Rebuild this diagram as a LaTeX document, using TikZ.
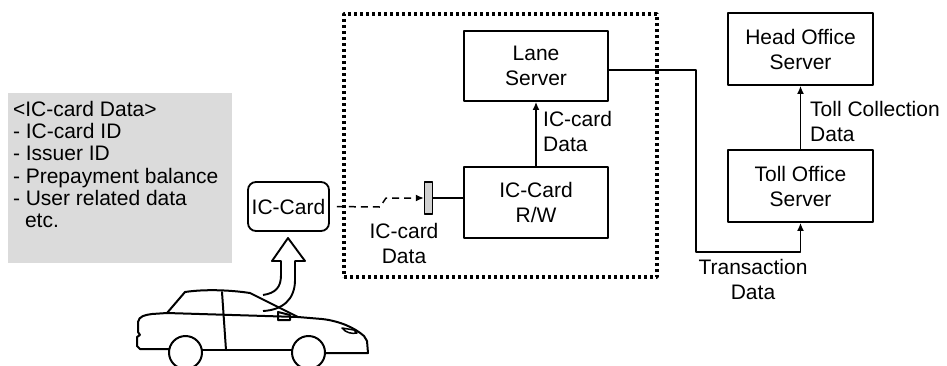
\documentclass[tikz,border=0pt]{standalone}
\usepackage{fontspec}
\setmainfont{Liberation Sans}
\usetikzlibrary{arrows.meta,positioning}

\begin{document}
\begin{tikzpicture}[x=1pt, y=-1pt, line join=round,
  every node/.style={font=\fontsize{21}{25}\selectfont, align=center, inner sep=0pt},
  server/.style={draw, line width=1.8pt, minimum width=144pt, minimum height=71pt},
  link/.style={line width=1.5pt},
  arr/.style={link, -{Latex[length=8pt,width=7pt]}},
  car/.style={line width=2pt, line cap=round}]

\useasboundingbox (0,0) rectangle (947,365);
\clip (0,0) rectangle (947,365);

% card data list
\node (databox) [fill=black!14, minimum width=224pt, minimum height=170pt] at (120,178) {};
\node (datalist) [anchor=north west, align=left, font=\fontsize{21}{22.3}\selectfont]
  at ([xshift=5pt,yshift=-8pt]databox.north west)
  {<IC-card Data>\\- IC-card ID\\- Issuer ID\\- Prepayment balance\\- User related data\\\hspace*{12pt}etc.};

% lane equipment
\node (station) [draw, line width=3.4pt, dash pattern=on 3.2pt off 2.8pt, minimum width=313pt, minimum height=263pt] at (500.5,145.5) {};
\node (card) [draw, rounded corners=8pt, line width=1.8pt, minimum width=81pt, minimum height=49pt] at (288.5,206.5) {IC-Card};
\node (reader) [draw, fill=black!18, line width=1.3pt, minimum width=8pt, minimum height=32pt] at (428.5,198) {};
\node (lane) [server, minimum height=70pt] at (536,66) {Lane\\Server};
\node (rw) [server] at (536,202.5) {IC-Card\\R/W};

% offices
\node (toll) [server, minimum width=145pt, minimum height=72pt] at (800.5,186) {Toll Office\\Server};
\node (head) [server, minimum width=145pt, minimum height=72pt] at (800.5,49) {Head Office\\Server};

\node (carddata) at (404,243) {IC-card\\Data};
\node (lanedata) [anchor=west, align=left] at (543,131) {IC-card\\Data};
\node (tolldata) [anchor=west, align=left] at (810,121) {Toll Collection\\Data};
\node (transdata) at (753,279) {Transaction\\Data};

\draw[arr, dash pattern=on 7pt off 5pt, shorten <=7pt] (card.east) -- (380,207) -- (386,198) -- (reader.west);
\draw[link] (reader.east) -- (reader.east -| rw.west);
\draw[arr] (rw.north) -- (lane.south);
\coordinate (turn) at (696,252);
\draw[arr] ([yshift=-4pt]lane.east) -| (turn) -| (toll.south);
\draw[arr] (toll.north) -- (head.south);

% hollow arrow from the car
\draw[line width=1.9pt] (263,295) .. controls (276,293) and (281,287) .. (281,275) -- (281,261) -- (272,261)
  -- (288,238) -- (305,261) -- (295,261) -- (295,280) .. controls (295,300) and (282,310) .. (263,311);

% car
\draw[car] (169,349) -- (140,349) -- (137,346) -- (137,337) -- (140,335) -- (138,332) -- (138,322)
  .. controls (139,316) and (145,315) .. (152,314) -- (167,313) -- (185,292)
  .. controls (205,289) and (230,290) .. (250,293) -- (298,317) -- (322,319)
  .. controls (340,321) and (355,328) .. (364,336) -- (367,341) -- (368,353) -- (325,353);
\draw[car] (202,350) -- (292,350);
\draw[car] (185.5,352.5) circle (16.5);
\draw[car] (308.5,352.5) circle (16.5);
\draw[car] (167,313) -- (298,317);
\draw[car] (222,292) -- (226,350);
\draw[car] (278,312) -- (290,315) -- (290,320) -- (278,320) -- cycle;
\draw[car, line width=1.5pt] (342,328) .. controls (346,333) and (352,334) .. (357,333) -- (354,330) -- cycle;

\end{tikzpicture}
\end{document}
